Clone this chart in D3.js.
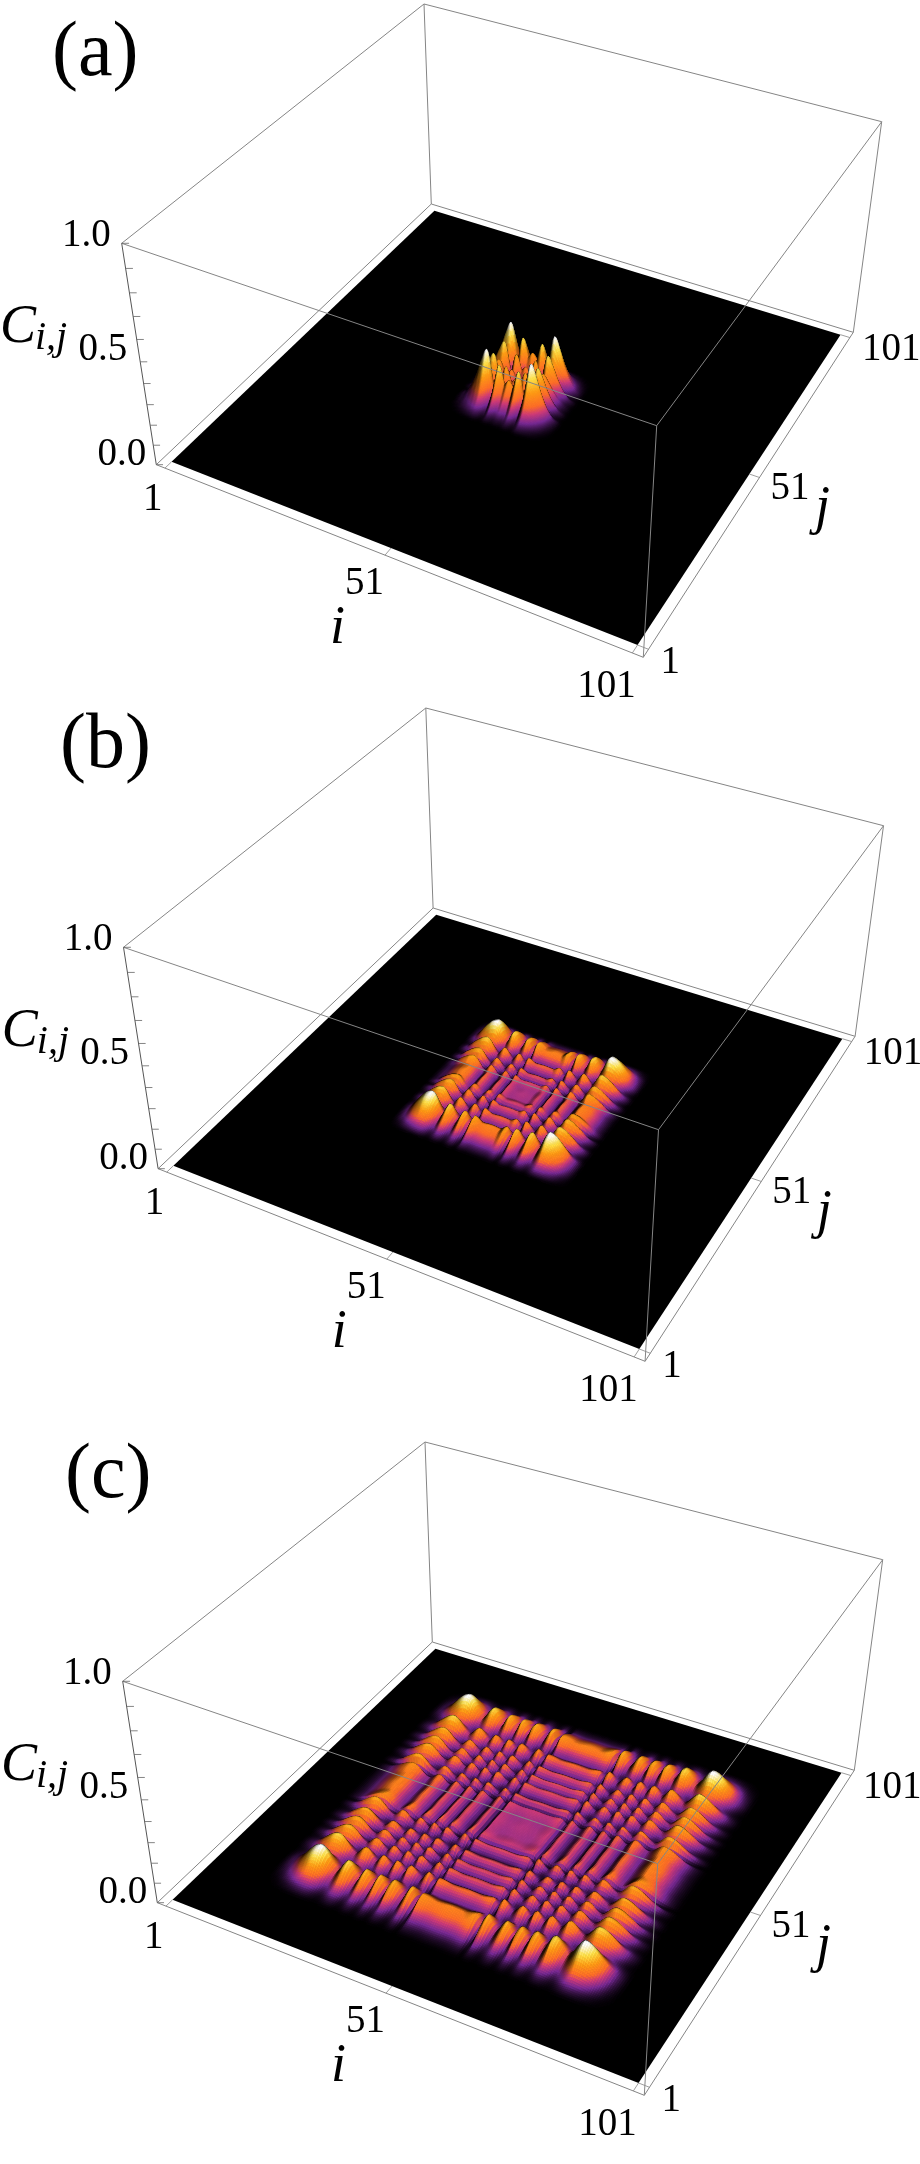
<!DOCTYPE html>
<html>
<head>
<meta charset="utf-8">
<script src="https://cdnjs.cloudflare.com/ajax/libs/d3/7.8.5/d3.min.js"></script>
<style>
body { margin: 0; background: #fff; }
#plot { position: relative; width: 920px; height: 2164px; }
canvas, svg { position: absolute; left: 0; top: 0; }
text { font-family: "Liberation Serif", "Times New Roman", serif; fill: #000; }
</style>
</head>
<body>
<div id="plot"></div>
<script>
// 1D cross sections of C(i,j), offset from the centre site 51
var offsetsA = [0, 1, 2.2, 3.4, 5, 6, 7, 8.5, 10, 12];
var profileA = [0.55, 0.45, 0.78, 0.3, 1, 0.8, 0.54, 0.24, 0.07, 0];
var offsetsB = [0, 2, 3.6, 4.6, 5.8, 7.5, 9.2, 10.9, 13.2, 14.2, 15.2, 16.2, 18.2, 20.5];
var profileB = [0.45, 0.42, 0.6, 0.15, 0.66, 0.22, 0.74, 0.27, 1, 0.94, 0.78, 0.58, 0.16, 0];
var offsetsC = [0, 3, 6, 7.1, 8.3, 10.2, 12.5, 14, 15.5, 17, 18.7, 20.5, 22.7, 25.4, 29, 30, 31, 32, 34, 36, 38.5];
var profileC = [0.45, 0.42, 0.52, 0.1, 0.64, 0.18, 0.64, 0.2, 0.64, 0.22, 0.66, 0.24, 0.76, 0.27, 1, 0.94, 0.8, 0.62, 0.27, 0.07, 0];
var peakHeights = [0.27, 0.13, 0.135];

var panelNames = ["(a)", "(b)", "(c)"];
var panelDx = [0, 1.8, 1];
var panelDy = [0, 704, 1438];
var panelLabelX = [52, 60, 65];
var panelLabelY = [75, 63, 59];
var meshSteps = [0.2, 0.3, 0.4];

var siteTicks = [1, 51, 101];
var heightLabels = [0, 0.5, 1];
var colorStops = [0, 0.12, 0.24, 0.34, 0.55, 0.76, 0.96];
var colorValues = ["#000000", "#782a96", "#d23c78", "#ff6e28", "#ff9b14", "#ffe146", "#ffffff"];

var W = 920, H = 2164;
var pad = 0.02;

// box corners on the page, panel (a)
var floorCorners = [[156.3, 464.7], [643.3, 657.3], [853.3, 332.3], [431.3, 204]];
var topCorners = [[121.7, 243.3], [656.7, 425.7], [881.7, 121.7], [424, 4]];

var uScale = d3.scaleLinear().domain([1, 101]).range([pad, 1 - pad]);
var zScale = d3.scaleLinear().domain([0, 1]).range([0, 1]);
var colorScale = d3.scaleLinear().domain(colorStops).range(colorValues).clamp(true);

// maps the unit square onto a quadrilateral
function homography(q) {
	var dx1 = q[1][0] - q[2][0], dx2 = q[3][0] - q[2][0], sx = q[0][0] - q[1][0] + q[2][0] - q[3][0];
	var dy1 = q[1][1] - q[2][1], dy2 = q[3][1] - q[2][1], sy = q[0][1] - q[1][1] + q[2][1] - q[3][1];
	var den = dx1 * dy2 - dx2 * dy1;
	var g = (sx * dy2 - dx2 * sy) / den;
	var h = (dx1 * sy - sx * dy1) / den;
	var a = q[1][0] - q[0][0] + g * q[1][0], b = q[3][0] - q[0][0] + h * q[3][0];
	var d = q[1][1] - q[0][1] + g * q[1][1], e = q[3][1] - q[0][1] + h * q[3][1];
	return function(u, v) {
		var w = g * u + h * v + 1;
		return [(a * u + b * v + q[0][0]) / w, (d * u + e * v + q[0][1]) / w];
	};
}
var floorMap = homography(floorCorners);
var topMap = homography(topCorners);

// u, v in the unit square, z in 0..1; the z axis gets shorter away from the camera
function project(u, v, z) {
	var p0 = floorMap(u, v), p1 = topMap(u, v);
	var s = z * 0.868 / (1 - z + z * 0.868);
	return [p0[0] + (p1[0] - p0[0]) * s, p0[1] + (p1[1] - p0[1]) * s];
}

// smooth curve through the read stations, flat at each peak and trough
function slopesFor(offsets, values) {
	return offsets.map(function(x, k) {
		if (k == 0 || k == offsets.length - 1) return 0;
		var s0 = (values[k] - values[k - 1]) / (x - offsets[k - 1]);
		var s1 = (values[k + 1] - values[k]) / (offsets[k + 1] - x);
		if (s0 * s1 <= 0) return 0;
		return 2 * s0 * s1 / (s0 + s1);
	});
}

function profileAt(offsets, values, slopes, x) {
	x = Math.abs(x);
	var last = offsets.length - 1;
	if (x >= offsets[last]) return 0;
	var k = d3.bisectRight(offsets, x) - 1;
	var h = offsets[k + 1] - offsets[k];
	var t = (x - offsets[k]) / h;
	var t2 = t * t, t3 = t2 * t;
	return (2 * t3 - 3 * t2 + 1) * values[k] + (t3 - 2 * t2 + t) * h * slopes[k]
		+ (-2 * t3 + 3 * t2) * values[k + 1] + (t3 - t2) * h * slopes[k + 1];
}

var canvas = d3.select("#plot").append("canvas").attr("width", W).attr("height", H);
var ctx = canvas.node().getContext("2d");
var quadLine = d3.line().context(ctx);

var viewDir = [0.5, -0.5, 0.7];

function drawSurface(offsets, values, peak, step, dx, dy) {
	ctx.save();
	ctx.translate(dx, dy);

	ctx.fillStyle = "#000";
	ctx.beginPath();
	quadLine([[0, 0], [1, 0], [1, 1], [0, 1]].map(function(c) {
		return project(uScale(c[0] ? 101 : 1), uScale(c[1] ? 101 : 1), 0);
	}));
	ctx.closePath();
	ctx.fill();

	var slopes = slopesFor(offsets, values);
	var reach = offsets[offsets.length - 1];
	var n = Math.ceil(reach / step);
	var sites = d3.range(-n, n + 1).map(function(k) { return k * step; });
	var line = sites.map(function(x) { return profileAt(offsets, values, slopes, x); });

	ctx.lineWidth = 0.7;
	// back to front: i going up, j going down
	for (var a = 0; a < sites.length - 1; a++) {
		for (var b = sites.length - 2; b >= 0; b--) {
			var c00 = line[a] * line[b], c10 = line[a + 1] * line[b];
			var c01 = line[a] * line[b + 1], c11 = line[a + 1] * line[b + 1];
			var mean = (c00 + c10 + c01 + c11) / 4;
			if (mean < 0.003) continue;

			var gx = -((c10 + c11) - (c00 + c01)) / 2 / step * peak * 60;
			var gy = -((c01 + c11) - (c00 + c10)) / 2 / step * peak * 60;
			var len = Math.sqrt(gx * gx + gy * gy + 1);
			var facing = (gx * viewDir[0] + gy * viewDir[1] + viewDir[2]) / len / 0.995;
			var shade = Math.min(1, 0.12 + 1.3 * Math.max(0, facing));

			var col = d3.rgb(colorScale(mean));
			col.r *= shade; col.g *= shade; col.b *= shade;
			var fill = col.formatRgb();
			ctx.fillStyle = fill;
			ctx.strokeStyle = fill;

			var i0 = uScale(51 + sites[a]), i1 = uScale(51 + sites[a + 1]);
			var j0 = uScale(51 + sites[b]), j1 = uScale(51 + sites[b + 1]);
			ctx.beginPath();
			quadLine([
				project(i0, j0, zScale(c00 * peak)),
				project(i1, j0, zScale(c10 * peak)),
				project(i1, j1, zScale(c11 * peak)),
				project(i0, j1, zScale(c01 * peak))
			]);
			ctx.closePath();
			ctx.fill();
			ctx.stroke();
		}
	}
	ctx.restore();
}

drawSurface(offsetsA, profileA, peakHeights[0], meshSteps[0], panelDx[0], panelDy[0]);
drawSurface(offsetsB, profileB, peakHeights[1], meshSteps[1], panelDx[1], panelDy[1]);
drawSurface(offsetsC, profileC, peakHeights[2], meshSteps[2], panelDx[2], panelDy[2]);

var svg = d3.select("#plot").append("svg").attr("width", W).attr("height", H);

var boxEdges = [
	[[0, 0, 0], [1, 0, 0]], [[1, 0, 0], [1, 1, 0]], [[1, 1, 0], [0, 1, 0]], [[0, 1, 0], [0, 0, 0]],
	[[0, 0, 1], [1, 0, 1]], [[1, 0, 1], [1, 1, 1]], [[1, 1, 1], [0, 1, 1]], [[0, 1, 1], [0, 0, 1]],
	[[1, 0, 0], [1, 0, 1]], [[1, 1, 0], [1, 1, 1]], [[0, 1, 0], [0, 1, 1]]
];

// label offsets from their tick, order follows the tick arrays
var zLabelShift = [[-10, 0], [-13, -2], [-11, 3]];
var iLabelShift = [[-22, 42], [-40, 39], [-55, 44]];
var jLabelShift = [[12, 24], [11, 22], [12, 22]];

panelNames.forEach(function(name, idx) {
	var g = svg.append("g").attr("transform", "translate(" + panelDx[idx] + "," + panelDy[idx] + ")");

	g.selectAll("line.edge").data(boxEdges).enter().append("line")
		.attr("class", "edge")
		.attr("x1", function(d) { return project(d[0][0], d[0][1], d[0][2])[0]; })
		.attr("y1", function(d) { return project(d[0][0], d[0][1], d[0][2])[1]; })
		.attr("x2", function(d) { return project(d[1][0], d[1][1], d[1][2])[0]; })
		.attr("y2", function(d) { return project(d[1][0], d[1][1], d[1][2])[1]; })
		.attr("stroke", "#858585")
		.attr("stroke-width", 1);

	// z axis
	var zTop = project(0, 0, zScale(1)), zBottom = project(0, 0, zScale(0));
	g.append("line")
		.attr("x1", zTop[0]).attr("y1", zTop[1]).attr("x2", zBottom[0]).attr("y2", zBottom[1])
		.attr("stroke", "#555").attr("stroke-width", 1);
	g.selectAll("line.ztick").data(zScale.ticks(10)).enter().append("line")
		.attr("class", "ztick")
		.attr("x1", function(d) { return project(0, 0, zScale(d))[0]; })
		.attr("y1", function(d) { return project(0, 0, zScale(d))[1]; })
		.attr("x2", function(d) { return project(0.011, 0.006, zScale(d))[0]; })
		.attr("y2", function(d) { return project(0.011, 0.006, zScale(d))[1]; })
		.attr("stroke", "#666").attr("stroke-width", 0.8);

	// i and j ticks across the white strip
	g.selectAll("line.itick").data(siteTicks).enter().append("line")
		.attr("class", "itick")
		.attr("x1", function(d) { return project(uScale(d), 0, 0)[0]; })
		.attr("y1", function(d) { return project(uScale(d), 0, 0)[1]; })
		.attr("x2", function(d) { return project(uScale(d), pad, 0)[0]; })
		.attr("y2", function(d) { return project(uScale(d), pad, 0)[1]; })
		.attr("stroke", "#858585").attr("stroke-width", 0.8);
	g.selectAll("line.jtick").data(siteTicks).enter().append("line")
		.attr("class", "jtick")
		.attr("x1", function(d) { return project(1, uScale(d), 0)[0]; })
		.attr("y1", function(d) { return project(1, uScale(d), 0)[1]; })
		.attr("x2", function(d) { return project(1 - pad, uScale(d), 0)[0]; })
		.attr("y2", function(d) { return project(1 - pad, uScale(d), 0)[1]; })
		.attr("stroke", "#858585").attr("stroke-width", 0.8);

	g.selectAll("text.zlabel").data(heightLabels).enter().append("text")
		.attr("class", "zlabel")
		.attr("text-anchor", "end")
		.attr("font-size", 39)
		.attr("x", function(d, k) { return project(0, 0, zScale(d))[0] + zLabelShift[k][0]; })
		.attr("y", function(d, k) { return project(0, 0, zScale(d))[1] + zLabelShift[k][1]; })
		.text(function(d) { return d3.format(".1f")(d); });

	g.selectAll("text.ilabel").data(siteTicks).enter().append("text")
		.attr("class", "ilabel")
		.attr("font-size", 39)
		.attr("x", function(d, k) { return project(uScale(d), 0, 0)[0] + iLabelShift[k][0]; })
		.attr("y", function(d, k) { return project(uScale(d), 0, 0)[1] + iLabelShift[k][1]; })
		.text(function(d) { return d; });

	g.selectAll("text.jlabel").data(siteTicks).enter().append("text")
		.attr("class", "jlabel")
		.attr("font-size", 39)
		.attr("x", function(d, k) { return project(1, uScale(d), 0)[0] + jLabelShift[k][0]; })
		.attr("y", function(d, k) { return project(1, uScale(d), 0)[1] + jLabelShift[k][1]; })
		.text(function(d) { return d; });

	// axis titles
	g.append("text").attr("x", 0).attr("y", 342).attr("font-size", 54).attr("font-style", "italic").text("C");
	g.append("text").attr("x", 35).attr("y", 349).attr("font-size", 40).attr("font-style", "italic").text("i,j");
	g.append("text").attr("x", 330).attr("y", 643).attr("font-size", 54).attr("font-style", "italic").text("i");
	g.append("text").attr("x", 815).attr("y", 523).attr("font-size", 54).attr("font-style", "italic").text("j");

	// panel letter sits apart from the box
	svg.append("text")
		.attr("x", panelLabelX[idx])
		.attr("y", panelDy[idx] + panelLabelY[idx])
		.attr("font-size", 78)
		.text(name);
});
</script>
</body>
</html>
